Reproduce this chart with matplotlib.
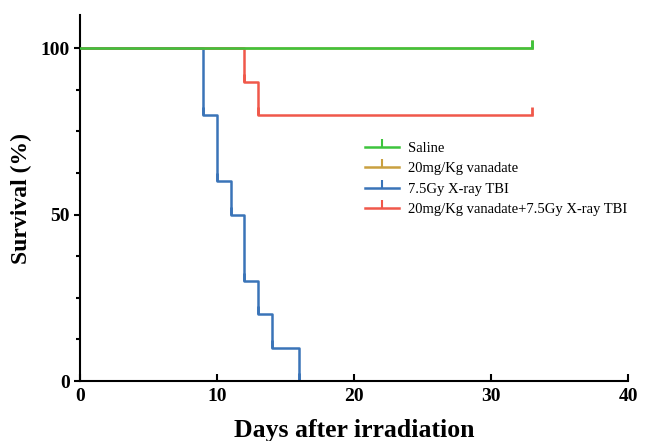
import matplotlib.pyplot as plt

# survival data (day, percent)
saline_days = [0, 33]
saline_surv = [100, 100]
vanadate_days = [0, 33]
vanadate_surv = [100, 100]
tbi_days = [0, 9, 10, 11, 12, 13, 14, 16]
tbi_surv = [100, 80, 60, 50, 30, 20, 10, 0]
combo_days = [0, 12, 13, 33]
combo_surv = [100, 90, 80, 80]

labels = ['Saline', '20mg/Kg vanadate', '7.5Gy X-ray TBI',
          '20mg/Kg vanadate+7.5Gy X-ray TBI']
colors = ['#3dc43d', '#c9a040', '#3a74b8', '#f0584a']

plt.rcParams['font.family'] = ['Liberation Serif', 'DejaVu Serif']

fig = plt.figure(figsize=(6.45, 4.41), dpi=100)
ax = fig.add_axes([0.124, 0.136, 0.85, 0.83])

series = [(vanadate_days, vanadate_surv, 1), (tbi_days, tbi_surv, 2),
          (combo_days, combo_surv, 3), (saline_days, saline_surv, 0)]
for d, s, i in series:
    ax.step(d, s, where='post', color=colors[i], lw=1.8, zorder=2 + (i == 0))
    # censor / event marks
    ax.plot(d[1:], s[1:], linestyle='none', marker=2, markersize=6,
            markeredgewidth=2, color=colors[i], zorder=2 + (i == 0))

handles = [plt.Line2D([], [], color=c, lw=1.8, marker=2, markersize=6,
                      markeredgewidth=1.5) for c in colors]
ax.legend(handles, labels, loc='upper left', bbox_to_anchor=(0.51, 0.67),
          frameon=False, fontsize=10.5, handlelength=2.3, handletextpad=0.6,
          labelspacing=0.5, numpoints=1, borderaxespad=0)

ax.set_xlim(0, 40)
ax.set_ylim(0, 110)
ax.set_xticks([0, 10, 20, 30, 40])
ax.set_yticks([0, 50, 100])
ax.set_yticks([12.5, 25, 37.5, 62.5, 75, 87.5], minor=True)
ax.spines['top'].set_visible(False)
ax.spines['right'].set_visible(False)
ax.spines['left'].set_linewidth(1.5)
ax.spines['bottom'].set_linewidth(1.5)
ax.tick_params(axis='x', direction='in', length=5, width=1.5, labelsize=14, pad=5)
ax.tick_params(axis='y', direction='out', length=4, width=1.5, labelsize=14)
ax.tick_params(axis='y', which='minor', direction='out', length=3, width=1.5)
for lab in ax.get_xticklabels() + ax.get_yticklabels():
    lab.set_fontweight('bold')

ax.set_xlabel('Days after irradiation', fontsize=18.5, fontweight='bold', labelpad=10)
ax.set_ylabel('Survival (%)', fontsize=17, fontweight='bold', labelpad=6)

fig.savefig('out.png', dpi=100)
